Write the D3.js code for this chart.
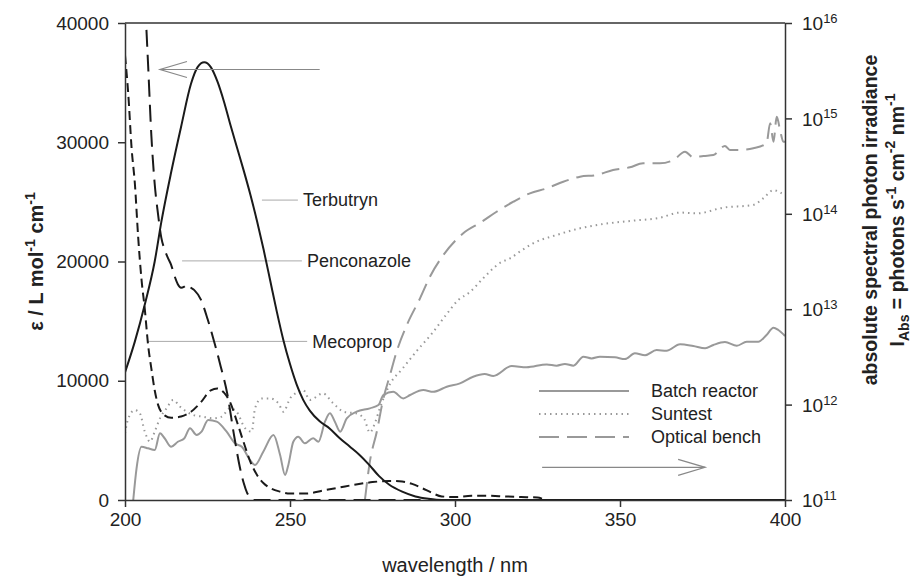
<!DOCTYPE html>
<html>
<head>
  <meta charset="utf-8" />
  <title>Absorption spectra and photon irradiance</title>
  <script src="https://cdn.jsdelivr.net/npm/d3@7"></script>
  <style>
    body { margin: 0; background: white; }
    text { font-family: "Liberation Sans", Arial, sans-serif; fill: #222; }
  </style>
</head>
<body>
  <script>
    // - - - - - CANVAS - - - - - //
    var w = 915;
    var h = 578;
    // plot frame (window.top is read-only, so prefixed names)
    var pLeft = 125, pRight = 785, pTop = 23, pBottom = 500;

    // - - - - - DATA - - - - - //
    // molar absorption coefficient, [wavelength nm, epsilon L/mol/cm]
    var terbutryn = [[200,10700],[203,13300],[206,16400],[209,20000],[211,23300],[214,27500],
      [217,31300],[220,34900],[222,36300],[224,36700],[226,36300],[228,35100],[230,33400],
      [232,31400],[234,29500],[236,27600],[238,25600],[240,23400],[242,21000],[244,18400],
      [246,15800],[248,13400],[250,11400],[252,9700],[254,8400],[256,7500],[259,6600],[262,6000],
      [265,5200],[268,4500],[271,3800],[274,2950],[277,2000],[280,1300],[284,700],[288,300],
      [292,100],[296,0],[400,0]];
    var penconazole = [[204.5,52000],[206.4,40000],[207,36500],[208,30500],[209,26500],[210,24000],
      [211,22000],[212,21000],[213,20300],[214,19700],[215,18800],[216,18100],[217,17800],
      [218,17900],[219,18100],[220,17800],[221,17600],[223,16800],[225,15200],[227,13300],
      [229,11200],[231,8900],[233,5500],[235,2500],[236,1400],[237,600],[238,200],[239,0],[400,0]];
    var mecoprop = [[200,37300],[201,34000],[202,29500],[203,26500],[204,22000],[205,18500],
      [206,16000],[207,13000],[208,11000],[209,9200],[210,8000],[212,7100],[214,6900],[217,7000],
      [220,7400],[223,8200],[226,9200],[228,9350],[230,9000],[232,8100],[234,6500],[236,4800],
      [238,3200],[240,2100],[242,1400],[244,1000],[247,700],[250,550],[255,550],[260,800],
      [265,1050],[270,1300],[275,1500],[280,1600],[284,1550],[287,1350],[290,1000],[293,600],
      [296,300],[300,250],[305,350],[310,350],[315,300],[320,250],[325,200],[328,0],[400,0]];

    // photon irradiance, [wavelength nm, photons s-1 cm-2 nm-1]
    var batchReactor = [[202.5,1e11],[203.5,2.15e11],[205,3.62e11],[207,3.48e11],[209,3.34e11],
      [210.6,5.0e11],[212,4.44e11],[214,3.62e11],[216,4.08e11],[218,4.44e11],[219.7,5.65e11],
      [221.7,4.8e11],[223.2,5.2e11],[225.2,6.9e11],[227.8,6.62e11],[230.8,5.2e11],[233.3,3.93e11],
      [235.4,3.62e11],[237.9,2.62e11],[239.4,2.33e11],[241.9,3.21e11],[245,4.8e11],[247,2.96e11],
      [248.5,1.83e11],[249.5,2.33e11],[251,4.08e11],[252.5,4.61e11],[254.5,3.93e11],[257,4.44e11],
      [258.6,4.08e11],[260.6,6.62e11],[262.1,8.11e11],[263.6,6.62e11],[265.2,5.2e11],[267.2,7.18e11],
      [270.2,8.43e11],[274.2,9.14e11],[276.8,9.9e11],[278.3,1.26e12],[281.3,1.36e12],[284.3,1.16e12],
      [286.4,1.26e12],[290.4,1.42e12],[293.4,1.36e12],[297.5,1.54e12],[301.5,1.67e12],[305.5,1.96e12],
      [309,2.09e12],[311.6,2.0e12],[317.2,2.54e12],[321.7,2.46e12],[327.8,2.64e12],[330.8,2.56e12],
      [333.3,2.67e12],[335.9,2.56e12],[338.9,3.18e12],[341.4,3.05e12],[343.9,3.18e12],[348.5,3.13e12],
      [351.5,3.0e12],[354.5,3.45e12],[357.6,3.29e12],[361.1,3.73e12],[364.1,3.67e12],[368.2,4.29e12],
      [372.2,4.11e12],[375.8,3.89e12],[378.3,4.22e12],[381.8,4.53e12],[385.4,4.14e12],[388.4,4.56e12],
      [391.9,4.56e12],[394.4,5.37e12],[396.5,6.4e12],[398,6.05e12],[400,5.24e12]];
    var suntest = [[200,5.0e11],[201,7.18e11],[203,8.77e11],[204.5,8.11e11],[206,5.2e11],
      [207.6,4.08e11],[209,5.2e11],[210.6,7.18e11],[212.6,9.14e11],[214.6,1.12e12],[216.7,9.5e11],
      [218.7,8.43e11],[220.7,7.78e11],[223.7,7.47e11],[226.8,7.18e11],[229.3,7.47e11],[231.8,9.14e11],
      [233.8,8.43e11],[236.4,5.65e11],[238.4,5.2e11],[239.4,9.14e11],[241.4,1.16e12],[243.9,1.16e12],
      [246.5,1.03e12],[248,8.43e11],[250,1.16e12],[252.5,1.36e12],[254,1.42e12],[256,1.12e12],
      [260,1.31e12],[263,1.04e12],[266.5,8.36e11],[270,8.11e11],[272.5,7.06e11],[274.2,5.1e11],
      [275.8,6.49e11],[277.3,9.33e11],[280.3,1.64e12],[284,2.36e12],[288.4,3.65e12],[292.9,5.5e12],
      [297.5,8.9e12],[301,1.25e13],[304.5,1.51e13],[308.6,2.12e13],[313.6,3.05e13],[316.7,3.42e13],
      [320.4,4.18e13],[323.7,4.91e13],[330.8,6.0e13],[337.9,7.05e13],[345,7.82e13],[353,8.41e13],
      [362.1,9.1e13],[368.2,1.03e14],[373.2,1.01e14],[381.3,1.16e14],[390.4,1.24e14],[393.4,1.45e14],
      [396.5,1.77e14],[399,1.64e14]];
    var opticalBench = [[272.7,1e11],[274.2,2.52e11],[276.3,5.2e11],[278.3,1.16e12],[280.3,2.04e12],
      [282.3,3.58e12],[285.4,6.82e12],[289.4,1.3e13],[292.4,2.19e13],[296.5,3.7e13],[302.5,6.25e13],
      [308,8.2e13],[312.6,1.05e14],[317.7,1.34e14],[322.7,1.64e14],[327.8,1.85e14],[332.8,2.17e14],
      [337.9,2.45e14],[342.9,2.55e14],[347.9,2.88e14],[353,3.07e14],[357,3.38e14],[362.1,3.38e14],
      [366.2,3.66e14],[369.7,4.48e14],[372.2,3.91e14],[375.3,4.04e14],[378.3,4.13e14],[381.8,5.14e14],
      [383.3,4.67e14],[386.4,4.67e14],[390.4,4.86e14],[394.4,5.48e14],[395.5,8.9e14],[396.5,5.7e14],
      [397.5,1.04e15],[398.5,7.55e14],[399.5,5.7e14],[400,5.7e14]];

    // ticks
    var xTicks = [200, 250, 300, 350, 400];
    var epsTicks = [0, 10000, 20000, 30000, 40000];
    var irrTicks = [1e11, 1e12, 1e13, 1e14, 1e15, 1e16];

    // compound labels: name, leader from/to wavelength, epsilon level
    var compoundLabels = [
      {name: "Terbutryn",   from: 241.5, to: 252.4, eps: 25150},
      {name: "Penconazole", from: 217.3, to: 253.6, eps: 20050},
      {name: "Mecoprop",    from: 207.0, to: 255.2, eps: 13300}
    ];
    var legendNames = ["Batch reactor", "Suntest", "Optical bench"];

    // - - - - - SVG - - - - - //
    var svg = d3.select("body").append("svg")
      .attr("width", w)
      .attr("height", h);

    // - - - - - SCALES - - - - - //
    var x = d3.scaleLinear().domain([200, 400]).range([pLeft, pRight]);
    var yEps = d3.scaleLinear().domain([0, 40000]).range([pBottom, pTop]);
    var yIrr = d3.scaleLog().domain([1e11, 1e16]).range([pBottom, pTop]);

    svg.append("clipPath").attr("id", "plotclip")
      .append("rect")
      .attr("x", pLeft).attr("y", pTop)
      .attr("width", pRight - pLeft).attr("height", pBottom - pTop + 2);

    var lineEps = d3.line()
      .x(function(d){ return x(d[0]); })
      .y(function(d){ return yEps(d[1]); })
      .curve(d3.curveMonotoneX);
    var lineIrr = d3.line()
      .x(function(d){ return x(d[0]); })
      .y(function(d){ return yIrr(d[1]); })
      .curve(d3.curveMonotoneX);

    var grey = "#999";
    var dark = "#1a1a1a";

    // - - - - - ANNOTATION LINES (behind curves) - - - - - //
    compoundLabels.forEach(function(c){
      svg.append("line")
        .attr("x1", x(c.from)).attr("x2", x(c.to))
        .attr("y1", yEps(c.eps)).attr("y2", yEps(c.eps))
        .attr("stroke", "#aaa").attr("stroke-width", 1);
      svg.append("text")
        .attr("x", x(c.to) + 5)
        .attr("y", yEps(c.eps))
        .attr("dy", "0.35em")
        .attr("font-size", "18px")
        .text(c.name);
    });

    var plot = svg.append("g").attr("clip-path", "url(#plotclip)");

    // - - - - - IRRADIANCE CURVES - - - - - //
    plot.append("path").datum(batchReactor)
      .attr("d", lineIrr).attr("fill", "none")
      .attr("stroke", grey).attr("stroke-width", 2);
    plot.append("path").datum(suntest)
      .attr("d", lineIrr).attr("fill", "none")
      .attr("stroke", grey).attr("stroke-width", 2)
      .attr("stroke-dasharray", "1.5,4");
    plot.append("path").datum(opticalBench)
      .attr("d", lineIrr).attr("fill", "none")
      .attr("stroke", grey).attr("stroke-width", 2)
      .attr("stroke-dasharray", "18,8");

    // - - - - - ABSORPTION CURVES - - - - - //
    plot.append("path").datum(terbutryn)
      .attr("d", lineEps).attr("fill", "none")
      .attr("stroke", dark).attr("stroke-width", 2);
    plot.append("path").datum(penconazole)
      .attr("d", lineEps).attr("fill", "none")
      .attr("stroke", dark).attr("stroke-width", 2)
      .attr("stroke-dasharray", "17,8");
    plot.append("path").datum(mecoprop)
      .attr("d", lineEps).attr("fill", "none")
      .attr("stroke", dark).attr("stroke-width", 2)
      .attr("stroke-dasharray", "9,5");

    // - - - - - AXES - - - - - //
    svg.append("line")
      .attr("x1", pLeft).attr("x2", pRight).attr("y1", pTop).attr("y2", pTop)
      .attr("stroke", "#333").attr("stroke-width", 1.5);

    var styleAxis = function(g){
      g.selectAll(".domain").attr("stroke", "#333").attr("stroke-width", 1.5);
      g.selectAll(".tick line").attr("stroke", "#333").attr("stroke-width", 1.5);
      g.selectAll(".tick text")
        .attr("font-size", "19px")
        .attr("font-family", "Liberation Sans, Arial, sans-serif")
        .attr("fill", "#222");
    };

    svg.append("g")
      .attr("transform", "translate(0," + pBottom + ")")
      .call(d3.axisBottom(x).tickValues(xTicks).tickSize(7).tickSizeOuter(0).tickPadding(6))
      .call(styleAxis);

    svg.append("g")
      .attr("transform", "translate(" + pLeft + ",0)")
      .call(d3.axisLeft(yEps).tickValues(epsTicks).tickSize(7).tickSizeOuter(0)
        .tickPadding(9).tickFormat(d3.format("d")))
      .call(styleAxis);

    var rAxis = svg.append("g")
      .attr("transform", "translate(" + pRight + ",0)")
      .call(d3.axisRight(yIrr).tickValues(irrTicks).tickSize(7).tickSizeOuter(0)
        .tickFormat(""))
      .call(styleAxis);
    rAxis.selectAll(".tick text").remove();
    rAxis.selectAll(".tick").append("text")
      .attr("x", 17).attr("dy", "0.35em")
      .attr("font-size", "19px")
      .attr("text-anchor", "start")
      .attr("fill", "#222")
      .attr("font-family", "Liberation Sans, Arial, sans-serif")
      .each(function(d){
        var t = d3.select(this);
        t.append("tspan").text("10");
        t.append("tspan").attr("font-size", "13px").attr("dy", "-0.55em")
          .text(Math.round(Math.log10(d)));
      });

    // - - - - - AXIS TITLES - - - - - //
    svg.append("text")
      .attr("x", (pLeft + pRight) / 2)
      .attr("y", 572)
      .attr("text-anchor", "middle")
      .attr("font-size", "20px")
      .text("wavelength / nm");

    var lt = svg.append("text")
      .attr("transform", "translate(43," + ((pTop + pBottom) / 2) + ") rotate(-90)")
      .attr("text-anchor", "middle")
      .attr("font-size", "20px")
      .attr("font-weight", "bold");
    lt.append("tspan").text("ε / L mol");
    lt.append("tspan").attr("font-size", "14px").attr("dy", "-0.6em").text("-1");
    lt.append("tspan").attr("dy", "0.42em").text(" cm");
    lt.append("tspan").attr("font-size", "14px").attr("dy", "-0.6em").text("-1");

    svg.append("text")
      .attr("transform", "translate(877,220) rotate(-90)")
      .attr("text-anchor", "middle")
      .attr("font-size", "19.5px")
      .attr("font-weight", "bold")
      .text("absolute spectral photon irradiance");

    var rt = svg.append("text")
      .attr("transform", "translate(904,220) rotate(-90)")
      .attr("text-anchor", "middle")
      .attr("font-size", "19.5px")
      .attr("font-weight", "bold");
    rt.append("tspan").text("I");
    rt.append("tspan").attr("font-size", "14px").attr("dy", "0.35em").text("Abs");
    rt.append("tspan").attr("dy", "-0.25em").text(" = photons s");
    rt.append("tspan").attr("font-size", "14px").attr("dy", "-0.6em").text("-1");
    rt.append("tspan").attr("dy", "0.42em").text(" cm");
    rt.append("tspan").attr("font-size", "14px").attr("dy", "-0.6em").text("-2");
    rt.append("tspan").attr("dy", "0.42em").text(" nm");
    rt.append("tspan").attr("font-size", "14px").attr("dy", "-0.6em").text("-1");

    // - - - - - DIRECTION ARROWS - - - - - //
    var arrow = function(x1, x2, y){
      var dir = x2 > x1 ? -1 : 1;
      var g = svg.append("g").attr("stroke", "#888").attr("stroke-width", 1.2).attr("fill", "none");
      g.append("line").attr("x1", x1).attr("x2", x2).attr("y1", y).attr("y2", y);
      g.append("path")
        .attr("d", "M" + (x2 + dir * 27) + "," + (y - 8) + "L" + x2 + "," + y + "L" + (x2 + dir * 27) + "," + (y + 8));
    };
    arrow(x(259), x(210.6), yEps(36100));
    arrow(x(326.4), x(375.8), yIrr(2.2e11));

    // - - - - - LEGEND - - - - - //
    var legStyles = [null, "1.5,4", "20,8"];
    var lg = svg.append("g").attr("transform", "translate(539,391)");
    legendNames.forEach(function(name, i){
      lg.append("line")
        .attr("x1", 0).attr("x2", 90)
        .attr("y1", i * 23).attr("y2", i * 23)
        .attr("stroke", grey).attr("stroke-width", 2)
        .attr("stroke-dasharray", legStyles[i]);
      lg.append("text")
        .attr("x", 112).attr("y", i * 23).attr("dy", "0.35em")
        .attr("font-size", "18px")
        .text(name);
    });
  </script>
</body>
</html>
